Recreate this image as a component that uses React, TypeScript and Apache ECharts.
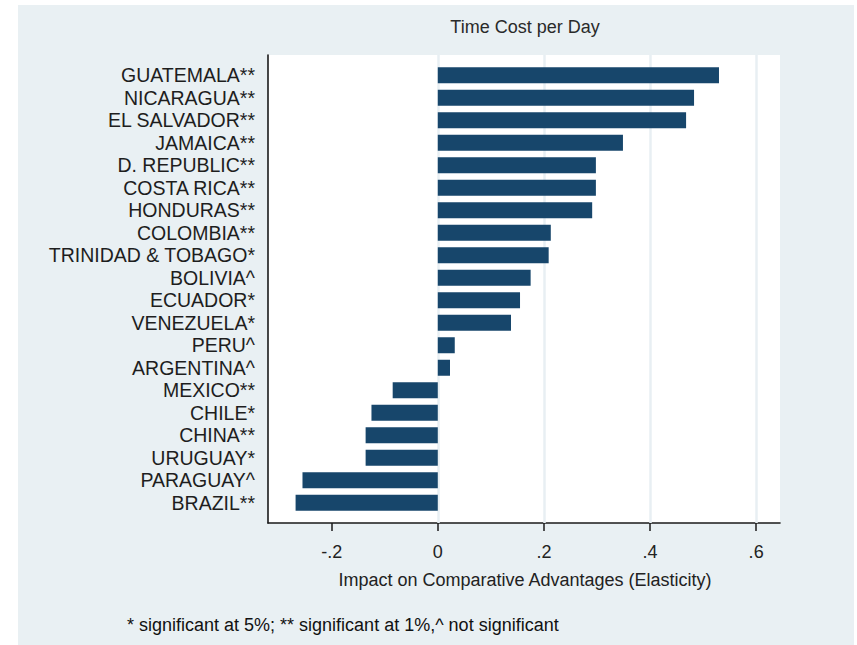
import React, { useEffect, useRef } from "react";
import * as echarts from "echarts";

const countries = [
  "GUATEMALA**",
  "NICARAGUA**",
  "EL SALVADOR**",
  "JAMAICA**",
  "D. REPUBLIC**",
  "COSTA RICA**",
  "HONDURAS**",
  "COLOMBIA**",
  "TRINIDAD & TOBAGO*",
  "BOLIVIA^",
  "ECUADOR*",
  "VENEZUELA*",
  "PERU^",
  "ARGENTINA^",
  "MEXICO**",
  "CHILE*",
  "CHINA**",
  "URUGUAY*",
  "PARAGUAY^",
  "BRAZIL**",
];

const elasticity = [
  0.53, 0.483, 0.468, 0.349, 0.298, 0.298, 0.291, 0.213, 0.209, 0.175,
  0.155, 0.138, 0.032, 0.023, -0.085, -0.125, -0.136, -0.136, -0.255, -0.268,
];

const tickValues = [-0.2, 0, 0.2, 0.4, 0.6];
const tickLabels = ["-.2", "0", ".2", ".4", ".6"];
const gridValues = [0, 0.2, 0.4, 0.6];

const titleText = "Time Cost per Day";
const xAxisTitle = "Impact on Comparative Advantages (Elasticity)";
const footnote = "* significant at 5%; ** significant at 1%,^ not significant";

const FONT = "'Liberation Sans', Arial, sans-serif";
const X_MIN = -0.32;
const X_MAX = 0.645;

export default function App() {
  const ref = useRef<HTMLDivElement>(null);
  useEffect(() => {
    if (!ref.current) return;
    const chart = echarts.init(ref.current, null, { renderer: "svg" });
    const labelOf = (v: number) => {
      const i = tickValues.findIndex((t) => Math.abs(t - v) < 1e-6);
      return i >= 0 ? tickLabels[i] : "";
    };
    chart.setOption({
      animation: false,
      backgroundColor: "#ffffff",
      graphic: [
        {
          type: "rect",
          z: -10,
          shape: { x: 18, y: 5, width: 836, height: 660 },
          style: { fill: "#e9f0f3" },
        },
        {
          type: "text",
          x: 525,
          y: 27,
          style: {
            text: titleText,
            fill: "#2a2a2a",
            font: `18px ${FONT}`,
            textAlign: "center",
            textVerticalAlign: "middle",
          },
        },
        {
          type: "text",
          x: 525,
          y: 580,
          style: {
            text: xAxisTitle,
            fill: "#222222",
            font: `18px ${FONT}`,
            textAlign: "center",
            textVerticalAlign: "middle",
          },
        },
        {
          type: "text",
          x: 127,
          y: 625,
          style: {
            text: footnote,
            fill: "#111111",
            font: `18px ${FONT}`,
            textAlign: "left",
            textVerticalAlign: "middle",
          },
        },
      ],
      grid: [
        { left: 268, right: 77, top: 64, height: 450 },
        {
          left: 268,
          right: 77,
          top: 55,
          bottom: 122,
          show: true,
          backgroundColor: "#ffffff",
          borderWidth: 0,
          z: 0,
        },
      ],
      xAxis: [
        {
          type: "value",
          gridIndex: 0,
          min: X_MIN,
          max: X_MAX,
          show: false,
          splitLine: { show: false },
        },
        {
          type: "value",
          gridIndex: 1,
          min: X_MIN,
          max: X_MAX,
          axisLine: {
            show: true,
            onZero: false,
            lineStyle: { color: "#1a1a1a", width: 1.6 },
          },
          axisTick: {
            show: true,
            customValues: tickValues,
            length: 8,
            lineStyle: { color: "#1a1a1a", width: 1.5 },
          },
          axisLabel: {
            customValues: tickValues,
            formatter: (v: number) => labelOf(v),
            color: "#222222",
            fontFamily: FONT,
            fontSize: 18,
            margin: 20,
          },
          splitLine: { show: false },
        },
      ],
      yAxis: [
        {
          type: "category",
          gridIndex: 0,
          inverse: true,
          data: countries,
          axisLine: { show: false },
          axisTick: { show: false },
          axisLabel: {
            interval: 0,
            color: "#1e1e1e",
            fontFamily: FONT,
            fontSize: 19.5,
            margin: 13,
            lineHeight: 20,
          },
          splitLine: { show: false },
        },
        {
          type: "value",
          gridIndex: 1,
          min: 0,
          max: 1,
          axisLine: {
            show: true,
            onZero: false,
            lineStyle: { color: "#1a1a1a", width: 1.6 },
          },
          axisTick: { show: false },
          axisLabel: { show: false },
          splitLine: { show: false },
        },
      ],
      series: [
        {
          type: "scatter",
          xAxisIndex: 1,
          yAxisIndex: 1,
          data: [],
          z: 1,
          markLine: {
            silent: true,
            symbol: ["none", "none"],
            label: { show: false },
            lineStyle: { color: "#e8eff3", width: 2.5, type: "solid" },
            data: gridValues.map((v) => ({ xAxis: v })),
          },
        },
        {
          type: "bar",
          xAxisIndex: 0,
          yAxisIndex: 0,
          data: elasticity,
          barWidth: 16,
          z: 5,
          itemStyle: { color: "#17466b" },
        },
      ],
    });
    return () => chart.dispose();
  }, []);
  return (
    <div
      ref={ref}
      style={{ width: 857, height: 645, position: "fixed", left: 0, top: 0 }}
    />
  );
}
